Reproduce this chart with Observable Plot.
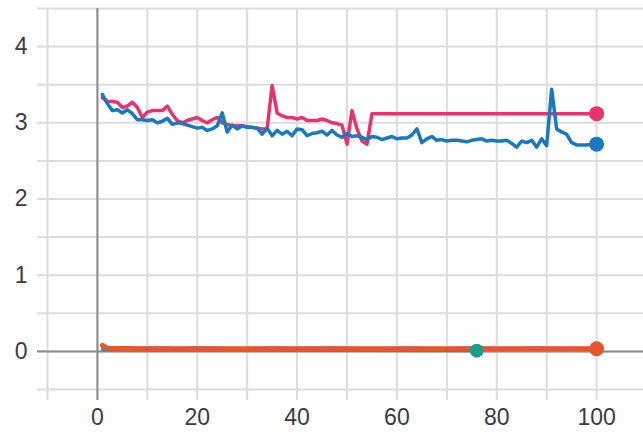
<!DOCTYPE html>
<html><head><meta charset="utf-8">
<script src="https://cdn.jsdelivr.net/npm/d3@7"></script>
<script src="https://cdn.jsdelivr.net/npm/@observablehq/plot@0.6"></script>
<style>html,body{margin:0;padding:0;background:#fff;}</style>
</head><body><div id="chart"></div>
<script>
// ---- data ----
const xTicks = [-10,0,10,20,30,40,50,60,70,80,90,100,110];
const xLabels = [0,20,40,60,80,100];
const yTicks = [-0.5,0,0.5,1,1.5,2,2.5,3,3.5,4,4.5];
const yLabels = [0,1,2,3,4];

const blueX = d3.range(1, 101);
const blueY = [3.37,3.25,3.16,3.17,3.13,3.17,3.12,3.04,3.04,3.03,
               3.04,3.00,3.02,3.06,2.98,3.00,2.99,2.97,2.95,2.93,
               2.94,2.90,2.92,2.96,3.13,2.88,2.97,2.92,2.96,2.94,
               2.94,2.93,2.85,2.93,2.83,2.90,2.85,2.89,2.83,2.92,
               2.91,2.83,2.86,2.87,2.89,2.84,2.90,2.84,2.81,2.86,
               2.82,2.83,2.81,2.78,2.82,2.81,2.78,2.80,2.82,2.79,
               2.80,2.80,2.84,2.92,2.74,2.79,2.82,2.77,2.78,2.76,
               2.77,2.77,2.76,2.75,2.77,2.78,2.79,2.76,2.77,2.76,
               2.76,2.77,2.73,2.68,2.76,2.74,2.77,2.68,2.79,2.70,
               3.44,2.92,2.88,2.85,2.74,2.71,2.71,2.71,2.72,2.72];

const pinkX = [1,2,3,4,5,6,7,8,9,10,11,12,13,14,15,16,17,18,19,20,
               21,22,23,24,25,26,27,28,29,30,31,32,33,34,35,36,37,38,39,40,
               41,42,43,44,45,46,47,48,49,50,51,52,53,54,55,100];
const pinkY = [3.33,3.28,3.28,3.27,3.20,3.22,3.27,3.20,3.07,3.14,
               3.16,3.16,3.16,3.22,3.11,3.03,3.00,3.03,3.05,3.07,
               3.03,3.00,3.04,3.07,3.00,2.98,2.96,2.96,2.96,2.95,
               2.94,2.93,2.92,2.92,3.49,3.13,3.09,3.07,3.07,3.05,
               3.07,3.03,3.03,3.03,3.05,3.03,3.00,2.99,2.97,2.72,
               3.16,2.92,2.76,2.72,3.12,3.12];

const orangeX = [1,2,10,20,30,40,50,60,70,80,90,100];
const orangeY = [0.08,0.04,0.035,0.035,0.035,0.035,0.035,0.035,0.035,0.035,0.035,0.035];

const lightX = [1,8,12,16,20,26,30,35,40,46,52,58,62,66,70,76,80,84,88,92,96,100];
const lightY = [0.04,0.04,0.055,0.04,0.055,0.04,0.04,0.055,0.04,0.055,0.04,0.04,0.055,0.04,0.04,0.055,0.04,0.04,0.055,0.04,0.04,0.04];

const tealX = [1,76];
const tealY = [0.02,0.01];

const colors = {pink:"#e8336f", blue:"#1a79bd", orange:"#e8552b", teal:"#16a08a", light:"#6cc4e4"};
const gridColor = "#dcdcdc";
const axisColor = "#8c8c8c";
const textColor = "#3a3a44";

const pts = (xs, ys) => xs.map((x,i)=>({x, y: ys[i]}));
const blue = pts(blueX, blueY);
const pink = pts(pinkX, pinkY);
const orange = pts(orangeX, orangeY);
const light = pts(lightX, lightY);
const teal = pts(tealX, tealY);

const chart = Plot.plot({
  width: 643,
  height: 434,
  marginLeft: 47,
  marginRight: 0,
  marginTop: 8,
  marginBottom: 45,
  style: {fontFamily: "'Liberation Sans', Arial, sans-serif", fontSize: "23px", color: textColor, background: "#fff"},
  x: {domain: [-10, 109.4], label: null},
  y: {domain: [-0.5, 4.5], label: null},
  marks: [
    Plot.gridX(xTicks, {stroke: gridColor, strokeOpacity: 1, strokeWidth: 2}),
    Plot.gridY(yTicks, {stroke: gridColor, strokeOpacity: 1, strokeWidth: 2}),
    Plot.axisX(xTicks, {tickSize: 11, tickPadding: 8, stroke: gridColor, strokeWidth: 2, label: null,
      tickFormat: d => xLabels.includes(d) ? String(d) : "", fill: textColor}),
    Plot.axisY(yTicks, {tickSize: 10, tickPadding: 10, stroke: gridColor, strokeWidth: 2, label: null,
      tickFormat: d => yLabels.includes(d) ? String(d) : "", fill: textColor}),
    Plot.axisX([0], {tickSize: 11, stroke: axisColor, strokeWidth: 2, label: null, tickFormat: () => ""}),
    Plot.axisY([0], {tickSize: 10, stroke: axisColor, strokeWidth: 2, label: null, tickFormat: () => ""}),
    Plot.ruleX([0], {stroke: axisColor, strokeWidth: 2}),
    Plot.ruleY([0], {stroke: axisColor, strokeWidth: 2}),
    Plot.line(light, {x: "x", y: "y", stroke: colors.light, strokeWidth: 3}),
    Plot.line(teal, {x: "x", y: "y", stroke: colors.teal, strokeWidth: 3}),
    Plot.line(orange, {x: "x", y: "y", stroke: colors.orange, strokeWidth: 5}),
    Plot.line(pink, {x: "x", y: "y", stroke: colors.pink, strokeWidth: 3.5}),
    Plot.line(blue, {x: "x", y: "y", stroke: colors.blue, strokeWidth: 3.5}),
    Plot.dot([teal[teal.length-1]], {x: "x", y: "y", r: 7, fill: colors.teal}),
    Plot.dot([pink[pink.length-1]], {x: "x", y: "y", r: 7.5, fill: colors.pink}),
    Plot.dot([blue[blue.length-1]], {x: "x", y: "y", r: 7.5, fill: colors.blue}),
    Plot.dot([orange[orange.length-1]], {x: "x", y: "y", r: 7.5, fill: colors.orange})
  ]
});
document.getElementById("chart").appendChild(chart);
</script>
</body></html>
